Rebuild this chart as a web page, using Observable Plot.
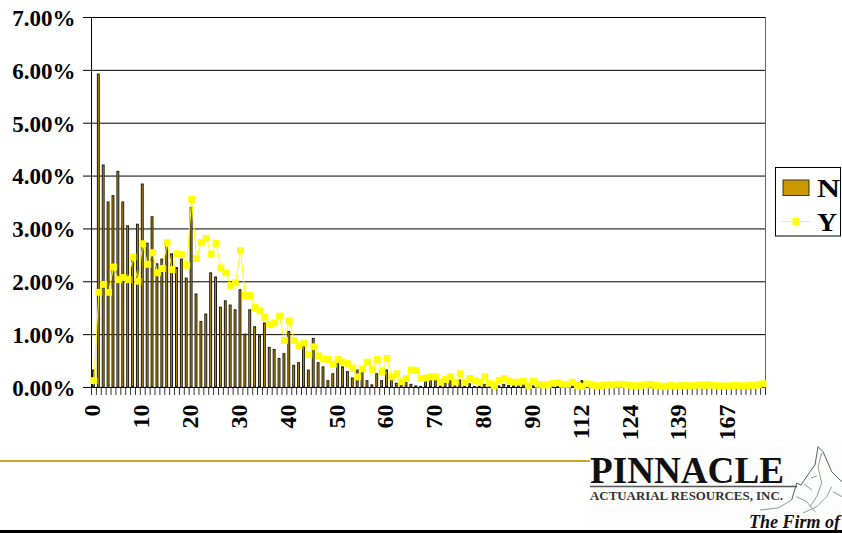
<!DOCTYPE html>
<html><head><meta charset="utf-8">
<script src="https://cdn.jsdelivr.net/npm/d3@7"></script>
<script src="https://cdn.jsdelivr.net/npm/@observablehq/plot@0.6"></script>
<style>
html,body{margin:0;padding:0;background:#fff;width:842px;height:533px;overflow:hidden;position:relative}
#chart,#overlay{position:absolute;left:0;top:0}
#overlay{pointer-events:none}
text{font-family:"Liberation Serif","Times New Roman",serif}
</style></head>
<body><div id="chart"></div>
<svg id="overlay" width="842" height="533" viewBox="0 0 842 533">
  <rect x="775.5" y="167.5" width="65" height="68.5" fill="#fff" stroke="#000"/>
  <rect x="783" y="180" width="26" height="15.5" fill="#cc9900" stroke="#3a3020"/>
  <text x="817" y="197" font-size="25" font-weight="700" textLength="23" lengthAdjust="spacingAndGlyphs">N</text>
  <line x1="782" x2="810" y1="221.5" y2="221.5" stroke="#ffff00"/>
  <rect x="792.5" y="218" width="7" height="7" fill="#ffff00"/>
  <text x="817" y="231" font-size="25" font-weight="700" textLength="20" lengthAdjust="spacingAndGlyphs">Y</text>

  <line x1="0" x2="590" y1="461" y2="461" stroke="#cfa52a" stroke-width="2"/>
  <rect x="590" y="445" width="252" height="85" fill="#fdfdfd"/>
  <path d="M791.7 500L796.7 483L801 485L810 471.7L815 465L818 446.7L823 451.7L826.7 460L831.7 471.7L838 478L842 481.7" fill="none" stroke="#4d6453" stroke-width="1"/>
  <path d="M760 510L778 508L791.7 500M821.7 453L818 466.7L821.7 483L816.7 496.7L810 506.7M796.7 496.7L806.7 501.7L815 511.7M803 513L816.7 506.7L826.7 496.7L831.7 486.7M833 491.7L842 496.7M804 484L812 490M811 478L817 476" fill="none" stroke="#6f8375" stroke-width="0.8"/>
  <text x="590" y="483" font-size="38" font-weight="700" fill="#111" textLength="194" lengthAdjust="spacingAndGlyphs">PINNACLE</text>
  <line x1="590" x2="797" y1="486.5" y2="486.5" stroke="#555" stroke-width="1.5"/>
  <text x="590" y="500" font-size="13.5" font-weight="700" fill="#333" textLength="193" lengthAdjust="spacingAndGlyphs">ACTUARIAL RESOURCES, INC.</text>
  <text x="749" y="528" font-size="18" font-weight="700" font-style="italic" fill="#111">The Firm of</text>
  <rect x="0" y="530" width="842" height="3" fill="#000"/>
</svg>
<script>
const seriesN = [0.32,5.92,4.20,3.50,3.62,4.08,3.50,3.05,2.45,3.08,3.84,2.72,3.22,2.33,2.42,2.65,2.52,2.26,2.42,2.06,
  3.40,1.76,1.24,1.38,2.16,2.08,1.51,1.63,1.55,1.46,1.84,1.00,1.46,1.14,0.97,1.21,0.75,0.71,0.54,0.63,
  1.05,0.41,0.46,0.77,0.32,0.92,0.46,0.38,0.12,0.25,0.48,0.38,0.29,0.17,0.32,0.29,0.12,0.04,0.25,0.12,
  0.32,0.13,0.07,0.04,0.10,0.05,0.02,0.01,0.13,0.13,0.13,0.02,0.08,0.12,0.03,0.13,0.01,0.06,0.01,0.01,
  0.05,0.01,0.01,0.02,0.05,0.03,0.03,0.03,0.04,0.01,0.02,0.01,0.01,0.01,0.01,0.01,0.01,0.01,0.02,0.01,
  0.12,0.01,0.01,0.01,0.01,0.01,0.01,0.01,0.01,0.01,0.01,0.01,0.01,0.01,0.01,0.01,0.01,0.01,0.01,0.01,
  0.07,0.01,0.01,0.01,0.01,0.01,0.01,0.01,0.01,0.01,0.01,0.01,0.01,0.01,0.01,0.01,0.01,0.01];
const seriesY = [0.13,1.80,1.95,1.80,2.28,2.04,2.08,2.04,2.47,2.01,2.72,2.33,2.55,2.17,2.25,2.74,2.23,2.53,2.52,2.31,
  3.56,2.44,2.74,2.82,2.52,2.73,2.26,2.17,1.93,1.98,2.59,1.74,1.74,1.51,1.45,1.33,1.19,1.22,1.35,0.89,
  1.26,0.89,0.79,0.84,0.62,0.77,0.60,0.54,0.53,0.44,0.53,0.48,0.45,0.37,0.20,0.35,0.48,0.34,0.53,0.30,
  0.55,0.20,0.26,0.11,0.17,0.33,0.32,0.17,0.18,0.20,0.20,0.10,0.15,0.20,0.10,0.26,0.10,0.17,0.13,0.10,
  0.20,0.08,0.04,0.13,0.17,0.12,0.10,0.10,0.12,0.04,0.12,0.06,0.05,0.05,0.08,0.09,0.06,0.06,0.10,0.04,
  0.02,0.07,0.05,0.03,0.04,0.05,0.05,0.06,0.06,0.05,0.04,0.03,0.04,0.05,0.06,0.04,0.03,0.02,0.04,0.03,
  0.03,0.04,0.03,0.04,0.05,0.04,0.05,0.04,0.03,0.03,0.03,0.04,0.04,0.03,0.04,0.04,0.05,0.07];
const tickLabels = ["0","10","20","30","40","50","60","70","80","90","112","124","139","167"];
const yTicks = [0,1,2,3,4,5,6,7];

const rows = seriesN.map((n,i)=>({i,n,y:seriesY[i]}));
const cats = rows.length;
const serif = '"Liberation Serif","Times New Roman",serif';

const plot = Plot.plot({
  width:842,height:533,
  marginLeft:91,marginRight:77,marginTop:17,marginBottom:146,
  style:{background:"#fff",fontFamily:serif,color:"#000"},
  x:{domain:[0,cats],axis:null,label:null},
  y:{domain:[0,7],axis:null,label:null},
  marks:[
    Plot.ruleY(yTicks,{stroke:"#000",strokeWidth:1,insetLeft:-8}),
    Plot.ruleX([0],{stroke:"#000",strokeWidth:1}),
    Plot.ruleX([cats],{stroke:"#666",strokeWidth:1}),
    Plot.rectY(rows,{x1:"i",x2:d=>d.i+1,y1:0,y2:"n",fill:"#c49400",stroke:"#1f1a10",strokeWidth:1,insetLeft:1.5,insetRight:1.5}),
    Plot.axisY({ticks:yTicks,tickSize:0,tickPadding:16,tickFormat:d=>d.toFixed(2)+"%",fontSize:23,fontWeight:700,label:null,dy:1}),
    Plot.ruleX(d3.range(0,cats+1),{y1:0,y2:0,insetBottom:-8,stroke:"#000",strokeWidth:0.8}),
    Plot.axisX({ticks:tickLabels.map((_,k)=>k*10+0.25),tickSize:0,tickPadding:17,tickRotate:-90,label:null,
      tickFormat:(d,k)=>tickLabels[k],fontSize:24,fontWeight:700,textAnchor:"end",lineAnchor:"middle"}),
    Plot.line(rows,{x:d=>d.i+0.5,y:"y",stroke:"#ffff00",strokeWidth:1}),
    Plot.dot(rows,{x:d=>d.i+0.5,y:"y",symbol:"square",r:3.9,fill:"#ffff00"})
  ]
});
document.getElementById("chart").append(plot);
</script>
</body></html>
